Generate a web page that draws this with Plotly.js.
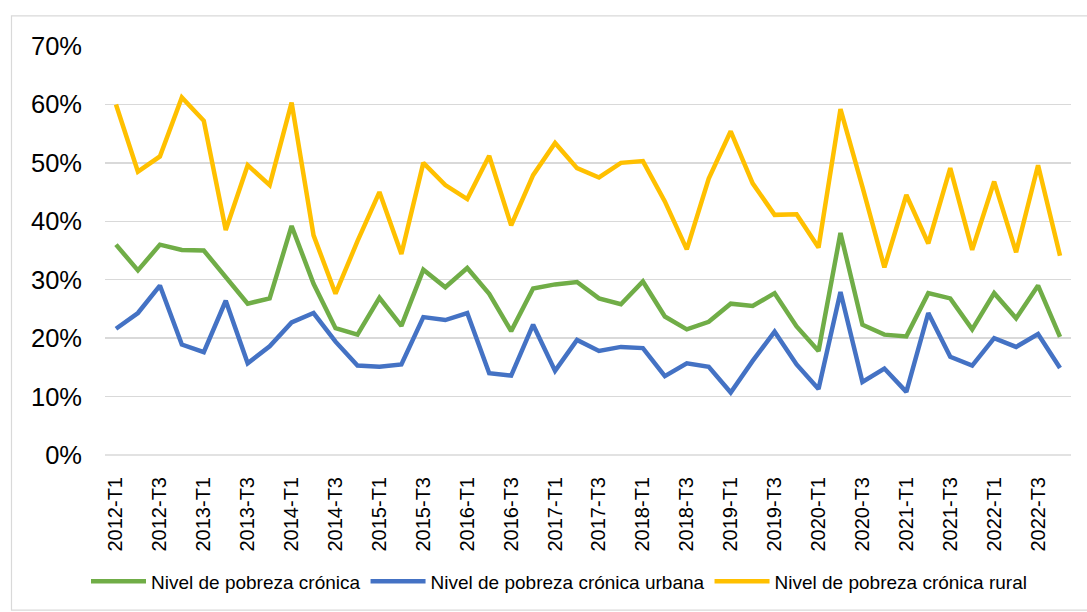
<!DOCTYPE html>
<html><head><meta charset="utf-8">
<script src="https://cdn.plot.ly/plotly-3.0.1.min.js"></script>
<style>html,body{margin:0;padding:0;background:#fff;}#chart{width:1087px;height:612px;}</style>
</head><body><div id="chart"></div>
<script>
const categories = ["2012-T1","2012-T2","2012-T3","2012-T4","2013-T1","2013-T2","2013-T3","2013-T4","2014-T1","2014-T2","2014-T3","2014-T4","2015-T1","2015-T2","2015-T3","2015-T4","2016-T1","2016-T2","2016-T3","2016-T4","2017-T1","2017-T2","2017-T3","2017-T4","2018-T1","2018-T2","2018-T3","2018-T4","2019-T1","2019-T2","2019-T3","2019-T4","2020-T1","2020-T2","2020-T3","2020-T4","2021-T1","2021-T2","2021-T3","2021-T4","2022-T1","2022-T2","2022-T3","2022-T4"];
const tickLabels = ["2012-T1","2012-T3","2013-T1","2013-T3","2014-T1","2014-T3","2015-T1","2015-T3","2016-T1","2016-T3","2017-T1","2017-T3","2018-T1","2018-T3","2019-T1","2019-T3","2020-T1","2020-T3","2021-T1","2021-T3","2022-T1","2022-T3"];
const cronica = [0.360,0.316,0.360,0.351,0.350,0.304,0.259,0.268,0.392,0.293,0.217,0.206,0.269,0.221,0.317,0.287,0.320,0.276,0.212,0.285,0.292,0.296,0.268,0.258,0.297,0.237,0.215,0.228,0.259,0.255,0.277,0.220,0.178,0.380,0.223,0.206,0.203,0.277,0.268,0.215,0.277,0.234,0.290,0.202];
const urbana = [0.216,0.243,0.290,0.189,0.176,0.264,0.157,0.186,0.227,0.243,0.194,0.153,0.151,0.155,0.236,0.231,0.243,0.140,0.136,0.223,0.144,0.197,0.178,0.185,0.183,0.135,0.157,0.151,0.107,0.161,0.211,0.155,0.113,0.279,0.125,0.148,0.108,0.243,0.168,0.153,0.200,0.185,0.207,0.149];
const rural = [0.600,0.485,0.511,0.612,0.572,0.385,0.496,0.462,0.603,0.376,0.276,0.366,0.450,0.344,0.500,0.462,0.438,0.512,0.393,0.479,0.534,0.491,0.475,0.500,0.503,0.434,0.352,0.473,0.554,0.465,0.411,0.412,0.355,0.592,0.459,0.321,0.445,0.362,0.491,0.351,0.468,0.347,0.496,0.341];
const seriesNames = ["Nivel de pobreza crónica","Nivel de pobreza crónica urbana","Nivel de pobreza crónica rural"];

const W = 1087, H = 612;
const m = {l:105, r:16, t:46, b:152};
const pw = W - m.l - m.r, ph = H - m.t - m.b;
const font = "Liberation Sans, Arial, sans-serif";

function tr(y, name, color){
  return {x: categories, y: y, name: name, type:'scatter', mode:'lines',
    line:{color:color, width:4.5, shape:'linear'}, hoverinfo:'skip'};
}
const data = [tr(cronica, seriesNames[0], '#70AD47'), tr(urbana, seriesNames[1], '#4472C4'), tr(rural, seriesNames[2], '#FFC000')];

const layout = {
  width:W, height:H, margin:m, paper_bgcolor:'#fff', plot_bgcolor:'#fff',
  font:{family:font, color:'#000'},
  showlegend:true,
  legend:{orientation:'h', x:(559-m.l)/pw, xanchor:'center', y:-(588-m.t-ph)/ph, yanchor:'middle',
    font:{size:19, family:font, color:'#000'}, itemwidth:55, tracegroupgap:0, bgcolor:'rgba(0,0,0,0)'},
  xaxis:{type:'category', categoryorder:'array', categoryarray:categories, range:[-0.5, categories.length-0.5],
    tickmode:'array', tickvals:tickLabels, ticktext:tickLabels, tickangle:-90,
    tickfont:{size:20, family:font, color:'#000'}, showgrid:false, zeroline:false, showline:false, ticks:'', ticklabelstandoff:17},
  yaxis:{range:[0,0.7], tickvals:[0,0.1,0.2,0.3,0.4,0.5,0.6,0.7], tickformat:'.0%',
    tickfont:{size:25.5, family:font, color:'#000'}, showgrid:true, gridcolor:'#D9D9D9', gridwidth:1.5,
    zeroline:false, showline:false, ticks:'', ticklabelstandoff:22},
  shapes:[
    {type:'line', xref:'paper', yref:'paper', x0:0, x1:1, y0:0, y1:0, line:{color:'#D9D9D9', width:1.5}, layer:'below'},
    {type:'rect', xref:'paper', yref:'paper', x0:(11.5-m.l)/pw, x1:(W+5-m.l)/pw, y0:-(H+5-m.t-ph)/ph, y1:1+(m.t-15.5)/ph,
      line:{color:'#D9D9D9', width:1.2}, fillcolor:'rgba(0,0,0,0)', layer:'below'}
  ]
};
Plotly.newPlot('chart', data, layout, {staticPlot:true, displayModeBar:false});
</script></body></html>
